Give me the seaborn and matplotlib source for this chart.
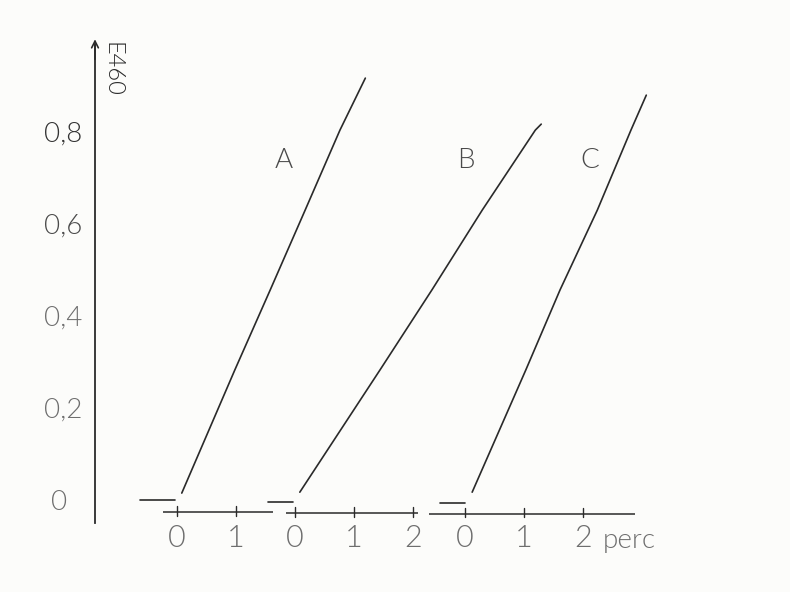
import matplotlib
matplotlib.use("Agg")
import matplotlib.pyplot as plt
import numpy as np
import pandas as pd
import seaborn as sns

# Absorbance at 460 nm against added amount (perc), three series A, B, C,
# each plotted against its own origin on a shared vertical scale.
series_names = ["A", "B", "C"]

a_x = [0.08, 0.98, 1.58, 2.17, 2.76, 3.19]
a_y = [0.015, 0.283, 0.457, 0.630, 0.804, 0.917]

b_x = [0.08, 1.44, 2.32, 3.17, 4.07, 4.17]
b_y = [0.017, 0.283, 0.457, 0.630, 0.804, 0.817]

c_x = [0.12, 1.03, 1.61, 2.24, 2.81, 3.07]
c_y = [0.017, 0.283, 0.457, 0.630, 0.804, 0.880]

# readings before the onset (flat baseline) for each series
base_a_x = [-0.63, -0.03]
base_b_x = [-0.46, -0.03]
base_c_x = [-0.42, 0.0]
base_a_y = [0.0, 0.0]
base_b_y = [-0.004, -0.004]
base_c_y = [-0.006, -0.006]

x_ticks_a = [0, 1]
x_ticks_b = [0, 1, 2]
x_ticks_c = [0, 1, 2]
y_major = [0, 0.2, 0.4, 0.6, 0.8]
y_minor = [0.1, 0.3, 0.5, 0.7]
y_labels = ["0  ", "0,2", "0,4", "0,6", "0,8"]

# horizontal placement of each sub-axis origin on the common abscissa
offsets = {"A": 0.0, "B": 2.0, "C": 4.88}
seg_spans = {"A": (-0.24, 1.63), "B": (-0.15, 2.08), "C": (-0.61, 2.88)}
seg_levels = {"A": -0.026, "B": -0.028, "C": -0.030}
tick_sets = {"A": x_ticks_a, "B": x_ticks_b, "C": x_ticks_c}

curves = {"A": (a_x, a_y), "B": (b_x, b_y), "C": (c_x, c_y)}
bases = {"A": (base_a_x, base_a_y), "B": (base_b_x, base_b_y), "C": (base_c_x, base_c_y)}

rows = []
for name in series_names:
    for part, (xs, ys) in (("curve", curves[name]), ("base", bases[name])):
        for x, y in zip(xs, ys):
            rows.append({"series": name, "unit": f"{name}-{part}",
                         "x": x + offsets[name], "E": y})
df = pd.DataFrame(rows)

sns.set_style("white")
plt.rcParams["font.family"] = ["Lato", "DejaVu Sans"]

ink = "#2a2a2a"
txt = "#4a4a4a"
faint = "#6e6e6e"
paper = "#fcfcfa"
w_text = 300

fig = plt.figure(figsize=(7.9, 5.92), dpi=100, facecolor=paper)
ax = fig.add_axes([95 / 790, 69 / 592, 605 / 790, 478 / 592])
ax.set_facecolor(paper)

sns.lineplot(data=df, x="x", y="E", units="unit", estimator=None, sort=False,
             color=ink, linewidth=1.2, ax=ax, legend=False)

ax.set_xlim(-1.39, 8.86)
ax.set_ylim(-0.05, 0.989)

for side in ("top", "right", "bottom"):
    ax.spines[side].set_visible(False)
ax.spines["left"].set_color(ink)
ax.spines["left"].set_linewidth(1.3)

ax.set_xticks([])
ax.set_xlabel("")
ax.set_ylabel("")
ax.set_yticks(y_major)
ax.set_yticklabels(y_labels)
ax.set_yticks(y_minor, minor=True)
ax.tick_params(axis="y", which="major", direction="out", length=7, width=1.1,
               color=ink, pad=2, labelsize=20)
ax.tick_params(axis="y", which="minor", direction="out", length=5, width=1.0,
               color=ink)
# the upper values are printed darker than the lower ones
ylab_colors = [faint, faint, faint, txt, "#333333"]
for lab, col in zip(ax.get_yticklabels(), ylab_colors):
    lab.set_fontweight(w_text)
    lab.set_color(col)

# arrow head at the top of the ordinate
ax.annotate("", xy=(0, 1.012), xytext=(0, 0.97), xycoords="axes fraction",
            arrowprops=dict(arrowstyle="->", color=ink, lw=1.2,
                            mutation_scale=12, shrinkA=0, shrinkB=0))

ax.text(-1.10, 0.935, "E460", rotation=270, ha="center", va="center",
        fontsize=17, color=ink, fontweight=w_text)

# segmented abscissa: one short axis per series
for name in series_names:
    off = offsets[name]
    lo, hi = seg_spans[name]
    lvl = seg_levels[name]
    ax.plot([lo + off, hi + off], [lvl, lvl], color=ink, lw=1.1,
            clip_on=False, solid_capstyle="butt")
    for t in tick_sets[name]:
        ax.plot([t + off, t + off], [lvl - 0.008, lvl + 0.012], color=ink,
                lw=1.0, clip_on=False)
        ax.text(t + off, -0.083, str(t), ha="center", va="center",
                fontsize=22, color=faint, fontweight=w_text, clip_on=False)

ax.text(7.22, -0.088, "perc", ha="left", va="center", fontsize=20,
        color=faint, fontweight=w_text, clip_on=False)

# series letters
label_pos = {"A": (1.80, 0.739), "B": (4.90, 0.739), "C": (7.0, 0.739)}
for name in series_names:
    x, y = label_pos[name]
    ax.text(x, y, name, ha="center", va="center", fontsize=20,
            color=txt, fontweight=w_text)

fig.savefig("out.png", dpi=100, facecolor=paper)
